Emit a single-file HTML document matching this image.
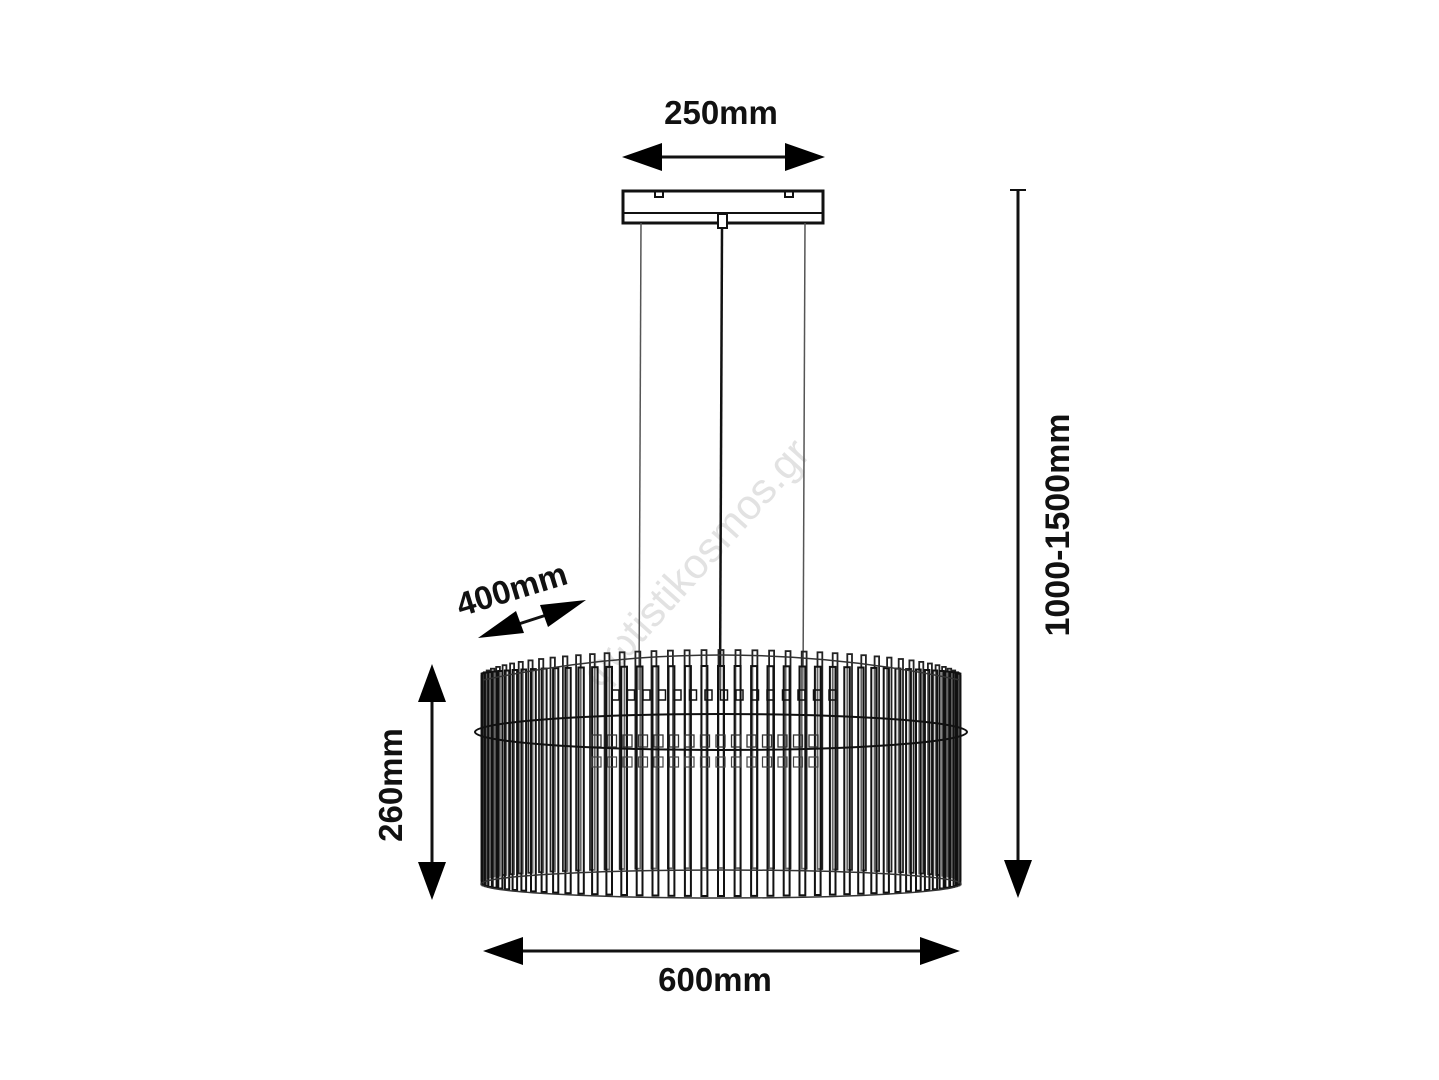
<!DOCTYPE html>
<html><head><meta charset="utf-8"><style>
html,body{margin:0;padding:0;background:#fff;}
svg{display:block;}
text{font-family:"Liberation Sans",sans-serif;font-weight:bold;fill:#111;}
</style></head><body>
<svg id="s" width="1439" height="1080" viewBox="0 0 1439 1080" xmlns="http://www.w3.org/2000/svg">
<rect width="1439" height="1080" fill="#fff"/>
<text x="0" y="0" transform="translate(600,690) rotate(-48)" font-size="42" style="font-weight:normal;fill:#e2e2e2">φωtistikosmos.gr</text>

<text x="721" y="124" font-size="33" text-anchor="middle">250mm</text>
<line x1="650" y1="157" x2="795" y2="157" stroke="#111" stroke-width="3"/>
<polygon points="622,157 662,143 662,171" fill="#000"/>
<polygon points="825,157 785,143 785,171" fill="#000"/>

<rect x="623" y="191" width="200" height="32" fill="#fff" stroke="#111" stroke-width="3"/>
<line x1="623" y1="213" x2="823" y2="213" stroke="#111" stroke-width="2"/>
<path d="M655 191 v6 h8 v-6 M785 191 v6 h8 v-6" fill="none" stroke="#111" stroke-width="2"/>
<rect x="718" y="214" width="9" height="14" fill="#fff" stroke="#111" stroke-width="2"/>
<line x1="641" y1="223" x2="639" y2="690" stroke="#555" stroke-width="1.5"/>
<line x1="722" y1="228" x2="720" y2="690" stroke="#111" stroke-width="2.5"/>
<line x1="805" y1="223" x2="803" y2="690" stroke="#555" stroke-width="1.5"/>

<line x1="1010" y1="190" x2="1026" y2="190" stroke="#111" stroke-width="2"/>
<line x1="1018" y1="190" x2="1018" y2="870" stroke="#111" stroke-width="3"/>
<polygon points="1018,898 1004,860 1032,860" fill="#000"/>
<text x="0" y="0" transform="translate(1069,525) rotate(-90)" font-size="34" text-anchor="middle">1000-1500mm</text>

<line x1="432" y1="690" x2="432" y2="875" stroke="#111" stroke-width="3"/>
<polygon points="432,664 418,702 446,702" fill="#000"/>
<polygon points="432,900 418,862 446,862" fill="#000"/>
<text x="0" y="0" transform="translate(402,785) rotate(-90)" font-size="33" text-anchor="middle">260mm</text>

<text x="0" y="0" transform="translate(515,600) rotate(-17)" font-size="33" text-anchor="middle">400mm</text>
<line x1="500" y1="630" x2="565" y2="609" stroke="#111" stroke-width="3"/>
<polygon points="478,638 516,611 524,633" fill="#000"/>
<polygon points="586,600 548,627 540,605" fill="#000"/>

<line x1="510" y1="951" x2="930" y2="951" stroke="#111" stroke-width="3"/>
<polygon points="483,951 523,937 523,965" fill="#000"/>
<polygon points="960,951 920,937 920,965" fill="#000"/>
<text x="715" y="991" font-size="33" text-anchor="middle">600mm</text>

<g id="lamp"></g>
</svg>
<script>
(function(){
var g=document.getElementById('lamp'),out='';
var cx=721,rx=238,n=44;
for(var i=0;i<=n;i++){
 var t=i/n, a=Math.PI*(1-t), x=cx+rx*Math.cos(a);
 var s=Math.sin(a);
 var top=676-26*s, bot=880-12*s;
 var w=3+2*s;
 out+='<rect x="'+(x-w/2).toFixed(1)+'" y="'+top.toFixed(1)+'" width="'+w.toFixed(1)+'" height="'+(bot-top).toFixed(1)+'" fill="none" stroke="#222" stroke-width="1.8"/>';
}
for(var i=0;i<=n;i++){
 var t=(i+0.5)/(n+1), a=Math.PI*(1-t), x=cx+rx*Math.cos(a);
 var s=Math.sin(a);
 var top=674-8*s, bot=884+12*s;
 var w=3+3*s;
 out+='<rect x="'+(x-w/2).toFixed(1)+'" y="'+top.toFixed(1)+'" width="'+w.toFixed(1)+'" height="'+(bot-top).toFixed(1)+'" fill="#fff" fill-opacity="0.3" stroke="#111" stroke-width="2"/>';
}
for(var i=0;i<15;i++){
 var x=612+i*15.5;
 out+='<rect x="'+x+'" y="690" width="7" height="10" fill="none" stroke="#111" stroke-width="1.5"/>';
 out+='<rect x="'+(x-20)+'" y="735" width="9" height="12" fill="none" stroke="#333" stroke-width="1.3"/>';
 out+='<rect x="'+(x-20)+'" y="757" width="9" height="10" fill="none" stroke="#444" stroke-width="1.2"/>';
}
out+='<ellipse cx="721" cy="732" rx="246" ry="18" fill="none" stroke="#111" stroke-width="2"/>';
out+='<ellipse cx="721" cy="884" rx="240" ry="14" fill="none" stroke="#333" stroke-width="1.5"/>';
out+='<path d="M483 680 Q721 630 960 680" fill="none" stroke="#333" stroke-width="1.5"/>';
g.innerHTML=out;
})();
</script>
</body></html>
